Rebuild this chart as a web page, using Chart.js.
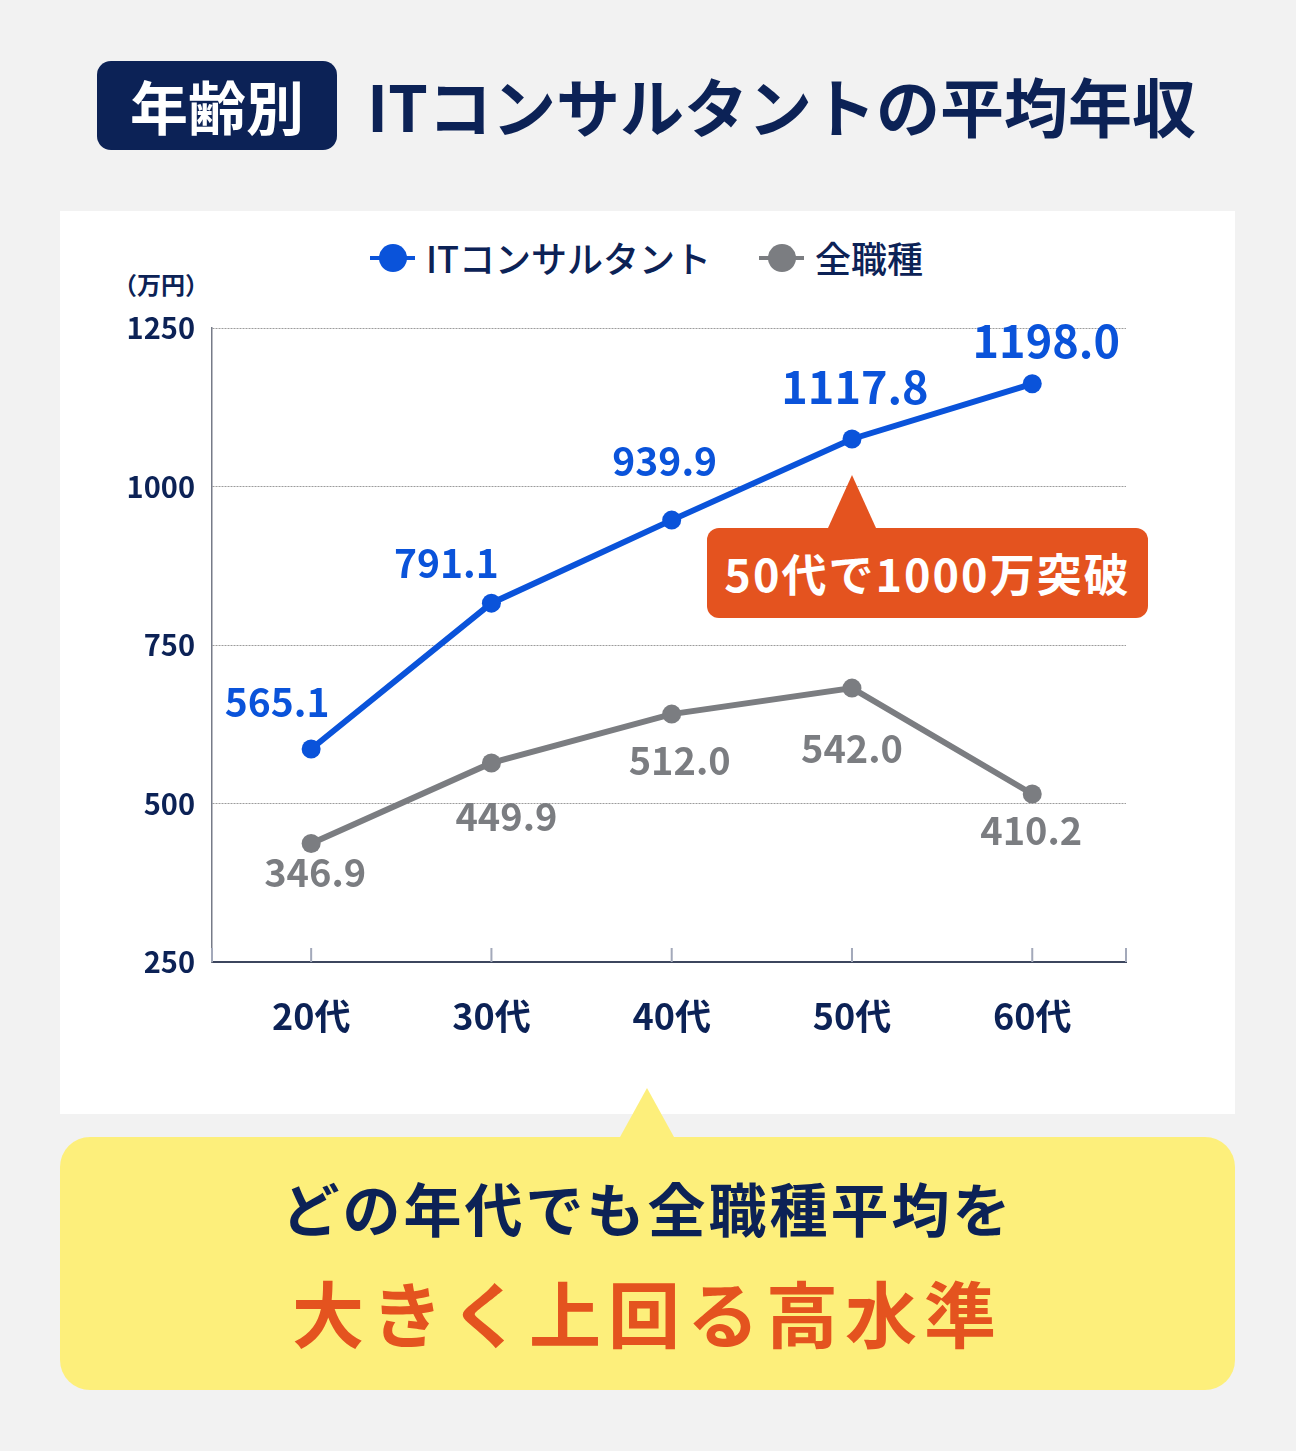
<!DOCTYPE html>
<html lang="ja">
<head>
<meta charset="utf-8">
<title>年齢別 ITコンサルタントの平均年収</title>
<script src="https://cdn.jsdelivr.net/npm/chart.js@4.4.1/dist/chart.umd.min.js"></script>
<style>
  html, body { margin: 0; padding: 0; }
  body {
    width: 1296px; height: 1451px; position: relative; overflow: hidden;
    background: #f2f2f2;
    font-family: "Noto Sans CJK JP", "Noto Sans", sans-serif;
  }
  .badge {
    position: absolute; left: 97px; top: 61px; width: 240px; height: 89px;
    background: #0c2256; border-radius: 14px;
    color: #fff; font-size: 58px; font-weight: 700; line-height: 89px; text-align: center;
  }
  .title {
    position: absolute; left: 367px; top: 60px; height: 89px; line-height: 89px;
    color: #0c2256; font-size: 64px; font-weight: 700; letter-spacing: 0; white-space: nowrap;
  }
  .panel { position: absolute; left: 60px; top: 211px; width: 1175px; height: 903px; background: #fff; }
  .chartbox { position: absolute; left: 60px; top: 211px; width: 1175px; height: 903px; }
  .unit {
    position: absolute; left: 113px; top: 267px; line-height: 34px;
    color: #0c2256; font-size: 24px; font-weight: 700;
  }
  .legend { position: absolute; top: 235px; height: 44px; line-height: 44px; color: #0c2256; font-size: 36px; font-weight: 500; white-space: nowrap; }
  .legend i { position: absolute; top: 21px; width: 45px; height: 4px; }
  .legend b { position: absolute; top: 9px; width: 28px; height: 28px; border-radius: 50%; }
  .legend span { position: absolute; white-space: nowrap; }
  .callout {
    position: absolute; left: 707px; top: 528px; width: 441px; height: 90px;
    background: #e4531f; border-radius: 12px; z-index: 3;
    color: #fff; font-size: 45px; font-weight: 700; line-height: 90px; text-align: center; letter-spacing: 2px;
  }
  .callout:before {
    content: ""; position: absolute; left: 121px; top: -53px;
    border-left: 24px solid transparent; border-right: 24px solid transparent; border-bottom: 53px solid #e4531f;
  }
  .note {
    position: absolute; left: 60px; top: 1137px; width: 1175px; height: 253px;
    background: #fdef7b; border-radius: 30px; z-index: 3; text-align: center;
  }
  .note:before {
    content: ""; position: absolute; left: 560px; top: -49px;
    border-left: 27px solid transparent; border-right: 27px solid transparent; border-bottom: 49px solid #fdef7b;
  }
  .note .l1 { position: absolute; left: 0; right: 0; top: 35px; line-height: 70px; color: #0c2256; font-size: 58px; font-weight: 700; letter-spacing: 3px; }
  .note .l2 { position: absolute; left: 0; right: 0; top: 131px; line-height: 86px; color: #e4531f; font-size: 72px; font-weight: 700; letter-spacing: 7px; }
</style>
</head>
<body>
  <div class="badge">年齢別</div>
  <div class="title">ITコンサルタントの平均年収</div>
  <div class="panel"></div>
  <div class="unit">（万円）</div>
  <div class="legend" style="left:370px"><i style="left:0;background:#0a53da"></i><b style="left:9px;background:#0a53da"></b><span style="left:56px">ITコンサルタント</span></div>
  <div class="legend" style="left:759px"><i style="left:0;background:#7b7d81"></i><b style="left:9px;background:#7b7d81"></b><span style="left:56px">全職種</span></div>
  <div class="chartbox"><canvas id="mycanvas"></canvas></div>
  <div class="callout">50代で1000万突破</div>
  <div class="note">
    <div class="l1">どの年代でも全職種平均を</div>
    <div class="l2">大きく上回る高水準</div>
  </div>

<script>
// data
const ageGroups = ['20代', '30代', '40代', '50代', '60代'];
const seriesNames = ['ITコンサルタント', '全職種'];
// plotted heights (where the marks sit on the 250-1250 scale)
const itConsultant = [586, 816, 947, 1075, 1162];
const allJobs = [437, 564, 641, 682, 515];
// value labels printed next to the points
const itConsultantLabels = ['565.1', '791.1', '939.9', '1117.8', '1198.0'];
const allJobsLabels = ['346.9', '449.9', '512.0', '542.0', '410.2'];
const yTicks = [250, 500, 750, 1000, 1250];

const NAVY = '#0c2256';
const BLUE = '#0a53da';
const GRAY = '#7b7d81';
const FONT = '"Noto Sans CJK JP", "Noto Sans", sans-serif';

// label placement relative to each point (px)
const labelStyle = [
  { color: BLUE, size: [39, 39, 39, 45, 45], dx: [-34, -45, -7, 3, 14], dy: [-47, -40, -59, -52, -43] },
  { color: GRAY, size: [38, 38, 38, 38, 38], dx: [4, 15, 8, 0, -1], dy: [29, 54, 46, 60, 37] }
];
const labelTexts = [itConsultantLabels, allJobsLabels];

const valueLabels = {
  id: 'valueLabels',
  afterDatasetsDraw(chart) {
    const ctx = chart.ctx;
    ctx.save();
    ctx.textAlign = 'center';
    ctx.textBaseline = 'middle';
    chart.data.datasets.forEach(function (ds, di) {
      const st = labelStyle[di];
      chart.getDatasetMeta(di).data.forEach(function (pt, i) {
        ctx.font = '700 ' + st.size[i] + 'px ' + FONT;
        ctx.fillStyle = st.color;
        ctx.fillText(labelTexts[di][i], pt.x + st.dx[i], pt.y + st.dy[i]);
      });
    });
    ctx.restore();
  }
};

// short tick marks standing up from the x axis
const innerTicks = {
  id: 'innerTicks',
  afterDraw(chart) {
    const ctx = chart.ctx;
    const xs = chart.scales.x;
    const area = chart.chartArea;
    const pos = xs.ticks.map(t => xs.getPixelForValue(t.value));
    pos.push(area.left, area.right);
    ctx.save();
    ctx.strokeStyle = '#a3a9ba';
    ctx.lineWidth = 2;
    ctx.beginPath();
    pos.forEach(function (x) {
      ctx.moveTo(x, area.bottom - 14);
      ctx.lineTo(x, area.bottom);
    });
    ctx.stroke();
    ctx.restore();
  }
};

function makeDataset(name, values, color) {
  return {
    label: name,
    data: values.map((v, i) => ({ x: i, y: v })),
    borderColor: color,
    backgroundColor: color,
    borderWidth: 6,
    pointRadius: 9.5,
    pointHoverRadius: 9.5,
    pointBorderWidth: 0,
    tension: 0
  };
}

Chart.defaults.font.family = FONT;
Chart.defaults.animation = false;

new Chart(document.getElementById('mycanvas'), {
  type: 'line',
  data: {
    datasets: [
      makeDataset(seriesNames[0], itConsultant, BLUE),
      makeDataset(seriesNames[1], allJobs, GRAY)
    ]
  },
  options: {
    responsive: true,
    maintainAspectRatio: false,
    layout: { padding: { left: 0, top: 117, right: 109, bottom: 52 } },
    plugins: { legend: { display: false }, tooltip: { enabled: false } },
    scales: {
      x: {
        type: 'linear',
        min: -0.55,
        max: 4.52,
        afterBuildTicks: s => { s.ticks = ageGroups.map((_, i) => ({ value: i })); },
        afterFit: s => { s.height = 100; },
        grid: { display: false },
        border: { display: true, color: '#3c465e', width: 2 },
        ticks: {
          callback: v => ageGroups[v],
          color: NAVY,
          font: { size: 36, weight: '700' },
          padding: 25,
          maxRotation: 0,
          autoSkip: false
        }
      },
      y: {
        min: 250,
        max: 1250,
        afterBuildTicks: s => { s.ticks = yTicks.map(v => ({ value: v })); },
        afterFit: s => { s.width = 152; },
        grid: {
          drawTicks: false,
          color: c => (c.tick && c.tick.value === 250) ? 'rgba(0,0,0,0)' : '#9c9c9c',
          lineWidth: 1
        },
        border: { display: true, color: '#767b88', width: 1.5, dash: [2, 1] },
        ticks: {
          callback: v => String(v),
          color: NAVY,
          font: { size: 29, weight: '700' },
          padding: 17
        }
      }
    }
  },
  plugins: [valueLabels, innerTicks]
});
</script>
</body>
</html>
